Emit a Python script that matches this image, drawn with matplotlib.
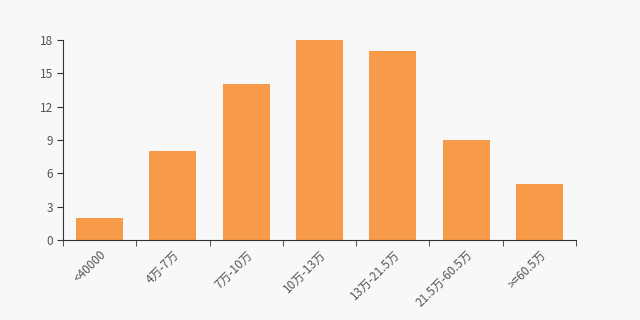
import numpy as np
import matplotlib.pyplot as plt

plt.rcParams['font.family'] = ['Noto Sans CJK SC', 'DejaVu Sans']

categories = ['<40000', '4万-7万', '7万-10万', '10万-13万', '13万-21.5万', '21.5万-60.5万', '>=60.5万']
counts = [2, 8, 14, 18, 17, 9, 5]
yticks = [0, 3, 6, 9, 12, 15, 18]

bg = '#f8f8f8'
fig = plt.figure(figsize=(6.4, 3.2), dpi=100, facecolor=bg)
ax = fig.add_axes([63 / 640, 0.25, (576 - 63) / 640, 0.625], facecolor=bg)

x = np.arange(len(categories))
ax.bar(x, counts, width=0.64, color='#f79a4a')

ax.set_xlim(-0.5, len(categories) - 0.5)
ax.set_ylim(0, 18)
ax.set_yticks(yticks)
ax.set_xticks(x)
ax.set_xticklabels(categories, rotation=45, ha='right', rotation_mode='anchor')
ax.set_xticks(np.arange(-0.5, len(categories)), minor=True)

for s in ['top', 'right']:
    ax.spines[s].set_visible(False)
for s in ['left', 'bottom']:
    ax.spines[s].set_color('#333333')
    ax.spines[s].set_linewidth(0.8)

ax.tick_params(axis='x', which='major', length=0, pad=6, labelsize=8.5, labelcolor='#555555')
ax.tick_params(axis='x', which='minor', length=4, color='#333333', direction='out')
ax.tick_params(axis='y', length=4, color='#333333', labelsize=8.5, labelcolor='#555555', pad=3)

fig.savefig('out.png', dpi=100, facecolor=bg)
